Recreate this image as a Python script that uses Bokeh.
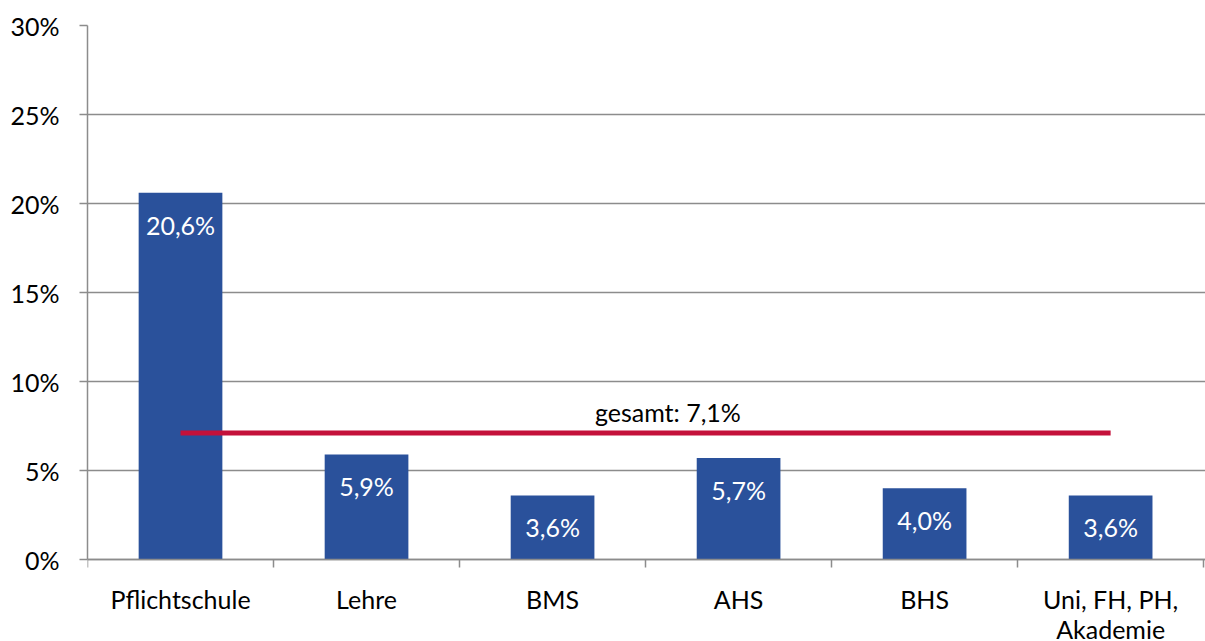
from bokeh.plotting import figure
from bokeh.models import Range1d, FixedTicker, ColumnDataSource
from bokeh.core.properties import value
from bokeh.embed import file_html
from bokeh.resources import INLINE

categories = ["Pflichtschule", "Lehre", "BMS", "AHS", "BHS", "Uni, FH, PH,\nAkademie"]
values = [20.6, 5.9, 3.6, 5.7, 4.0, 3.6]
labels = ["20,6%", "5,9%", "3,6%", "5,7%", "4,0%", "3,6%"]
total = 7.1
total_label = "gesamt: 7,1%"
y_ticks = [0, 5, 10, 15, 20, 25, 30]

FONT = "Lato"
FS = "25px"
BAR = "#2A519B"
RED = "#C4113A"
GRID = "#8C8C8C"

n = len(categories)
xc = [i + 0.5 for i in range(n)]
src = ColumnDataSource(dict(x=xc, top=values, label=labels))

# frame spans 25..641 px; 0% sits 82 px above the frame bottom (17.8 px per %)
p = figure(width=1205, height=641, output_backend="svg", toolbar_location=None,
           x_range=Range1d(0, 6.01), y_range=Range1d(-82 / 17.8, 30),
           min_border_left=87, min_border_right=0, min_border_top=25, min_border_bottom=0)
p.outline_line_color = None
p.background_fill_color = "white"
p.border_fill_color = "white"

p.vbar(x="x", top="top", width=0.45, bottom=0, source=src, fill_color=BAR, line_color=None)

p.text(x="x", y="top", text="label", source=src, text_color="white",
       text_font=value(FONT), text_font_size=FS, text_align="center",
       text_baseline="middle", y_offset=32)

p.line(x=[xc[0], xc[-1]], y=[total, total], line_color=RED, line_width=5)
p.text(x=[3.12], y=[total], text=[total_label], text_color="black",
       text_font=value(FONT), text_font_size=FS, text_align="center",
       text_baseline="bottom", y_offset=-6)

# y axis
p.yaxis.ticker = FixedTicker(ticks=y_ticks)
p.yaxis.bounds = (0, 30)
p.yaxis.major_label_overrides = {t: f"{t}%" for t in y_ticks}
p.yaxis.minor_tick_line_color = None
p.yaxis.major_tick_out = 8
p.yaxis.major_tick_in = 0
p.yaxis.major_tick_line_color = GRID
p.yaxis.major_tick_line_width = 1.5
p.yaxis.axis_line_color = GRID
p.yaxis.axis_line_width = 1.5
p.yaxis.major_label_text_font = FONT
p.yaxis.major_label_text_font_size = FS
p.yaxis.major_label_text_color = "black"
p.yaxis.major_label_standoff = 20

# x axis, drawn at the 0 line
p.xaxis.fixed_location = 0
p.xaxis.ticker = FixedTicker(ticks=xc, minor_ticks=list(range(n + 1)))
p.xaxis.major_label_overrides = {x: c for x, c in zip(xc, categories)}
p.xaxis.major_tick_line_color = None
p.xaxis.minor_tick_line_color = GRID
p.xaxis.minor_tick_out = 8
p.xaxis.minor_tick_in = 0
p.xaxis.minor_tick_line_width = 1.5
p.xaxis.axis_line_color = GRID
p.xaxis.axis_line_width = 1.5
p.xaxis.major_label_text_font = FONT
p.xaxis.major_label_text_font_size = FS
p.xaxis.major_label_text_color = "black"
p.xaxis.major_label_text_line_height = 1.0
p.xaxis.major_label_standoff = 16

p.xgrid.grid_line_color = None
p.ygrid.ticker = FixedTicker(ticks=y_ticks)
p.ygrid.grid_line_color = GRID
p.ygrid.grid_line_width = 1.5

open("out.html", "w").write(file_html(p, INLINE))
